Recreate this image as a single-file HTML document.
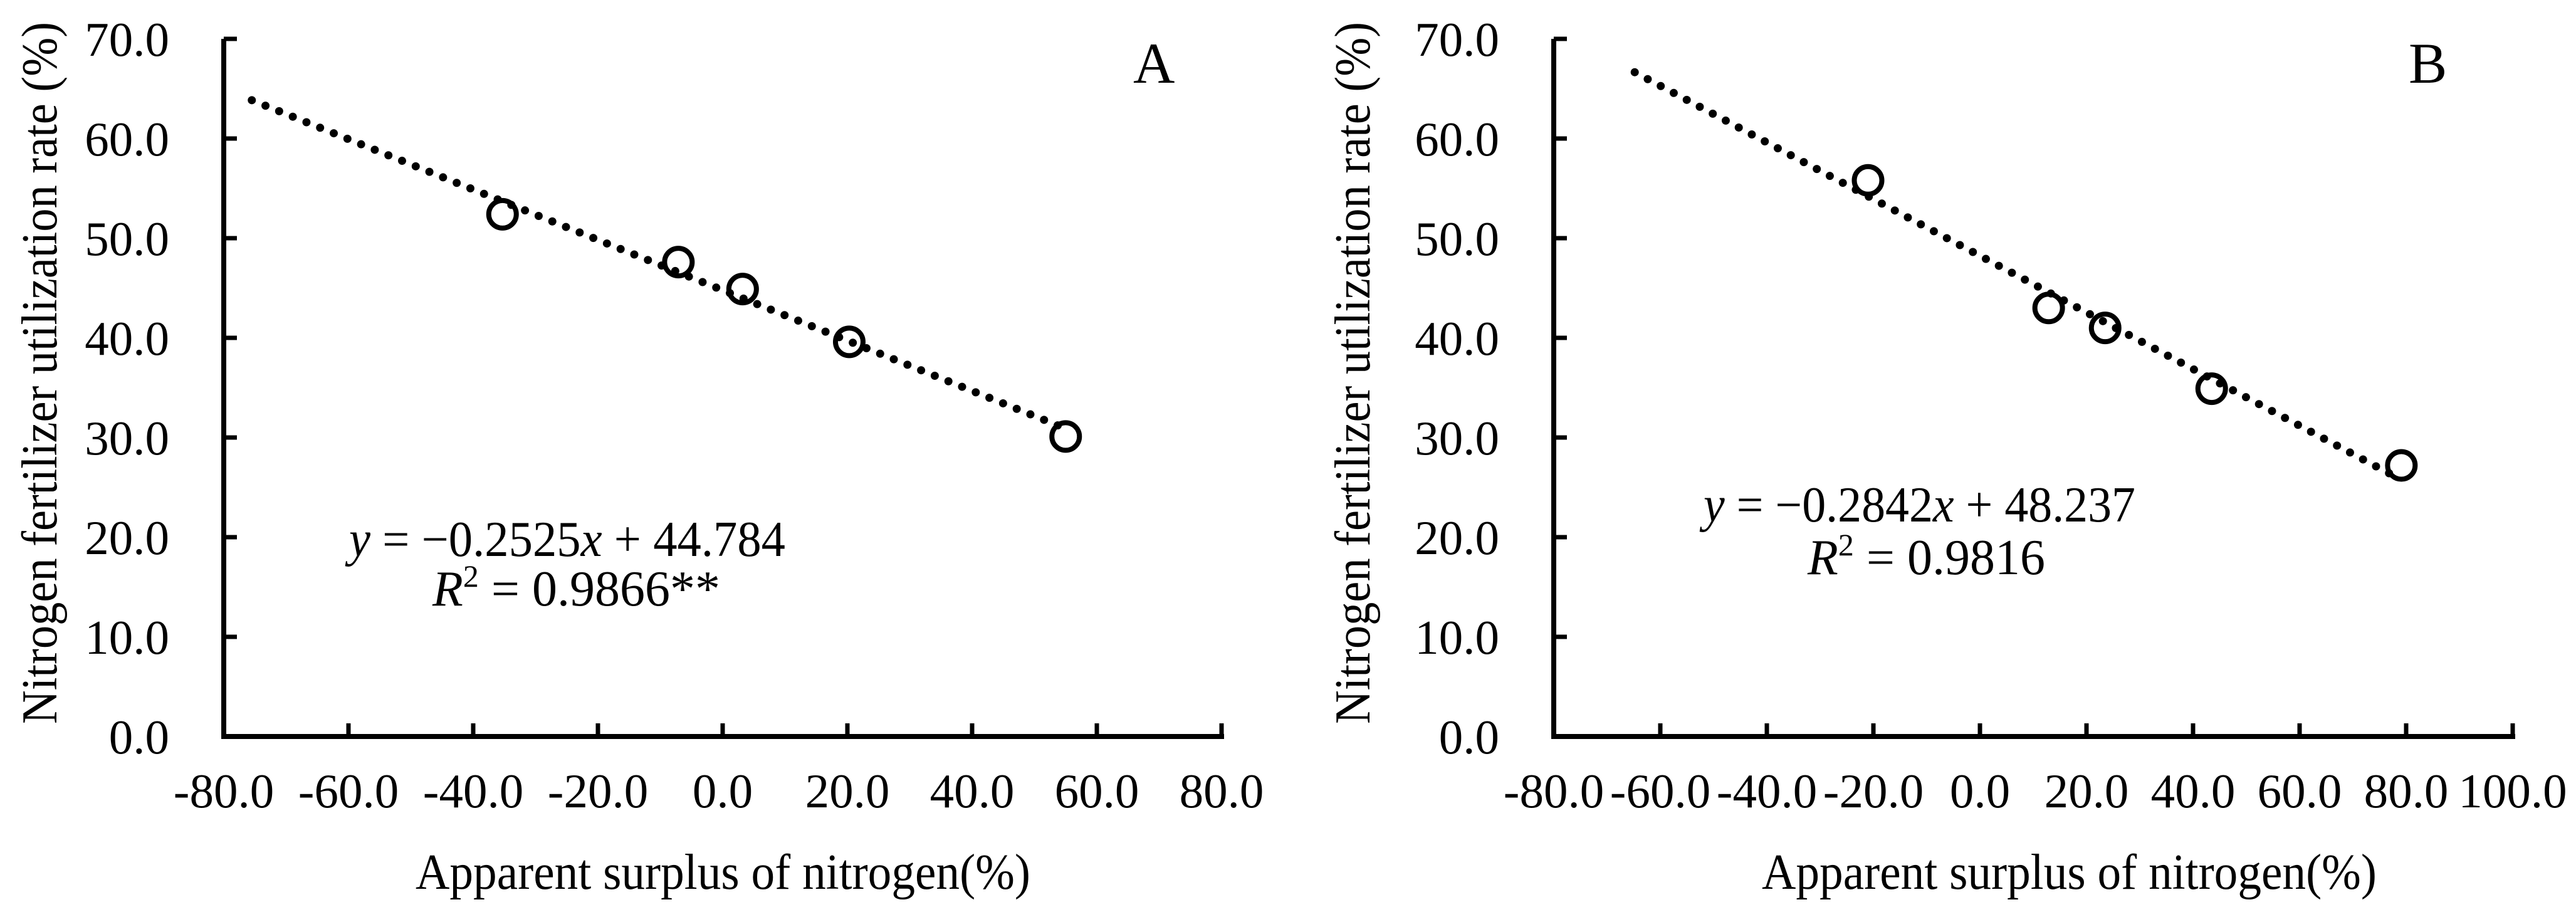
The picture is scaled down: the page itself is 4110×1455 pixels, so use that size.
<!DOCTYPE html>
<html><head><meta charset="utf-8"><style>
html,body{margin:0;padding:0;background:#fff;}
svg{display:block;}
text{font-family:"Liberation Serif","Times New Roman",serif;fill:#000;}
</style></head><body>
<svg id="fig" width="4110" height="1455" viewBox="0 0 4110 1455" xmlns="http://www.w3.org/2000/svg" font-family="Liberation Serif, serif"></svg>
<script>
// ---- Panel A data ----
const xTicksA = [-80, -60, -40, -20, 0, 20, 40, 60, 80];
const xTickLabelsA = ["-80.0","-60.0","-40.0","-20.0","0.0","20.0","40.0","60.0","80.0"];
const surplusA = [-35.3, -7.1, 3.2, 20.3, 55.0];
const utilA = [52.4, 47.6, 44.9, 39.6, 30.1];
const fitA = [-0.2525, 44.784];
const fitRangeA = [-75.5, 55];
// ---- Panel B data ----
const xTicksB = [-80, -60, -40, -20, 0, 20, 40, 60, 80, 100];
const xTickLabelsB = ["-80.0","-60.0","-40.0","-20.0","0.0","20.0","40.0","60.0","80.0","100.0"];
const surplusB = [-21.0, 12.9, 23.5, 43.5, 79.1];
const utilB = [55.8, 43.0, 41.0, 34.9, 27.2];
const fitB = [-0.2842, 48.237];
const fitRangeB = [-64.8, 77.5];
// ---- shared y ----
const yTicks = [0, 10, 20, 30, 40, 50, 60, 70];
const yTickLabels = ["0.0","10.0","20.0","30.0","40.0","50.0","60.0","70.0"];

const NS = "http://www.w3.org/2000/svg";
const svg = document.getElementById('fig');
function mk(tag, attrs, parent) {
  const e = document.createElementNS(NS, tag);
  for (const k in attrs) e.setAttribute(k, attrs[k]);
  if (tag === 'text') e.setAttribute('font-family', 'Liberation Serif, serif');
  (parent || svg).appendChild(e);
  return e;
}

function panel(cfg) {
  const g = mk('g', {});
  
  
  const x0 = cfg.px0, x1 = cfg.px1, xmin = cfg.xTicks[0], xmax = cfg.xTicks[cfg.xTicks.length - 1];
  const yTop = 62, yBot = 1175, ymin = 0, ymax = 70;
  const sx = v => x0 + (v - xmin) / (xmax - xmin) * (x1 - x0);
  const sy = v => yBot - (v - ymin) / (ymax - ymin) * (yBot - yTop);

  const ya = mk('line', {x1: x0, y1: yTop, x2: x0, y2: yBot, stroke: '#000', 'stroke-width': 8}, g);
  
  
  const xa = mk('line', {x1: x0 - 4, y1: yBot, x2: x1 + 4, y2: yBot, stroke: '#000', 'stroke-width': 8}, g);
  
  

  yTicks.forEach((v, i) => {
    const t = mk('line', {x1: x0, y1: sy(v), x2: x0 + 21, y2: sy(v), stroke: '#000', 'stroke-width': 7}, g);
    
    
    const l = mk('text', {x: x0 - 87, y: sy(v) + 27, 'font-size': 77, 'text-anchor': 'end'}, g);
    
    
    l.textContent = yTickLabels[i];
  });
  cfg.xTicks.forEach((v, i) => {
    const t = mk('line', {x1: sx(v), y1: yBot, x2: sx(v), y2: yBot - 21, stroke: '#000', 'stroke-width': 7}, g);
    
    
    const l = mk('text', {x: sx(v), y: 1288, 'font-size': 77, 'text-anchor': 'middle'}, g);
    
    
    l.textContent = cfg.xLabels[i];
  });

  const [m, b] = cfg.fit;
  const tl = mk('line', {x1: sx(cfg.fitRange[0]), y1: sy(m * cfg.fitRange[0] + b), x2: sx(cfg.fitRange[1]), y2: sy(m * cfg.fitRange[1] + b),
    stroke: '#000', 'stroke-width': 13, 'stroke-linecap': 'round', 'stroke-dasharray': '0 23.5'}, g);
  
  

  cfg.xs.forEach((v, i) => {
    const c = mk('circle', {cx: sx(v), cy: sy(cfg.ys[i]), r: 22, fill: 'none', stroke: '#000', 'stroke-width': 8}, g);
    
    
  });

  const yt = mk('text', {x: 0, y: 0, 'font-size': 80, 'text-anchor': 'middle', textLength: 1120, lengthAdjust: 'spacingAndGlyphs',
    transform: `translate(${cfg.yTitleX},595) rotate(-90)`}, g);
  
  
  yt.textContent = 'Nitrogen fertilizer utilization rate (%)';
  const xt = mk('text', {x: cfg.xTitle[0], y: 1418, 'font-size': 80, textLength: cfg.xTitle[1], lengthAdjust: 'spacingAndGlyphs'}, g);
  
  
  xt.textContent = 'Apparent surplus of nitrogen(%)';

  const pl = mk('text', {x: cfg.letter[0], y: 132, 'font-size': 92}, g);
  
  
  pl.textContent = cfg.letter[1];

  const eq = mk('text', {x: cfg.eq[0], y: cfg.eq[1], 'font-size': 80, textLength: cfg.eq[2], lengthAdjust: 'spacingAndGlyphs'}, g);
  
  
  eq.innerHTML = '<tspan font-style="italic">y</tspan> = \u22120.' + cfg.eqText[0] + '<tspan font-style="italic">x</tspan> + ' + cfg.eqText[1];
  const r2 = mk('text', {x: cfg.r2[0], y: cfg.r2[1], 'font-size': 80}, g);
  
  
  r2.innerHTML = '<tspan font-style="italic">R</tspan><tspan dy="-30" font-size="50">2</tspan><tspan dy="30"> = ' + cfg.r2Text + '</tspan>';
}

panel({name: 'panel-a', px0: 357, px1: 1949, xTicks: xTicksA, xLabels: xTickLabelsA, xs: surplusA, ys: utilA,
  fit: fitA, fitRange: fitRangeA, yTitleX: 90, xTitle: [663, 981], letter: [1808, 'A'],
  eq: [557, 887, 696], eqText: ['2525', '44.784'], r2: [690, 966], r2Text: '0.9866**'});
panel({name: 'panel-b', px0: 2479, px1: 4009, xTicks: xTicksB, xLabels: xTickLabelsB, xs: surplusB, ys: utilB,
  fit: fitB, fitRange: fitRangeB, yTitleX: 2185, xTitle: [2811, 981], letter: [3843, 'B'],
  eq: [2718, 832, 689], eqText: ['2842', '48.237'], r2: [2884, 916], r2Text: '0.9816'});
</script>
</body></html>
